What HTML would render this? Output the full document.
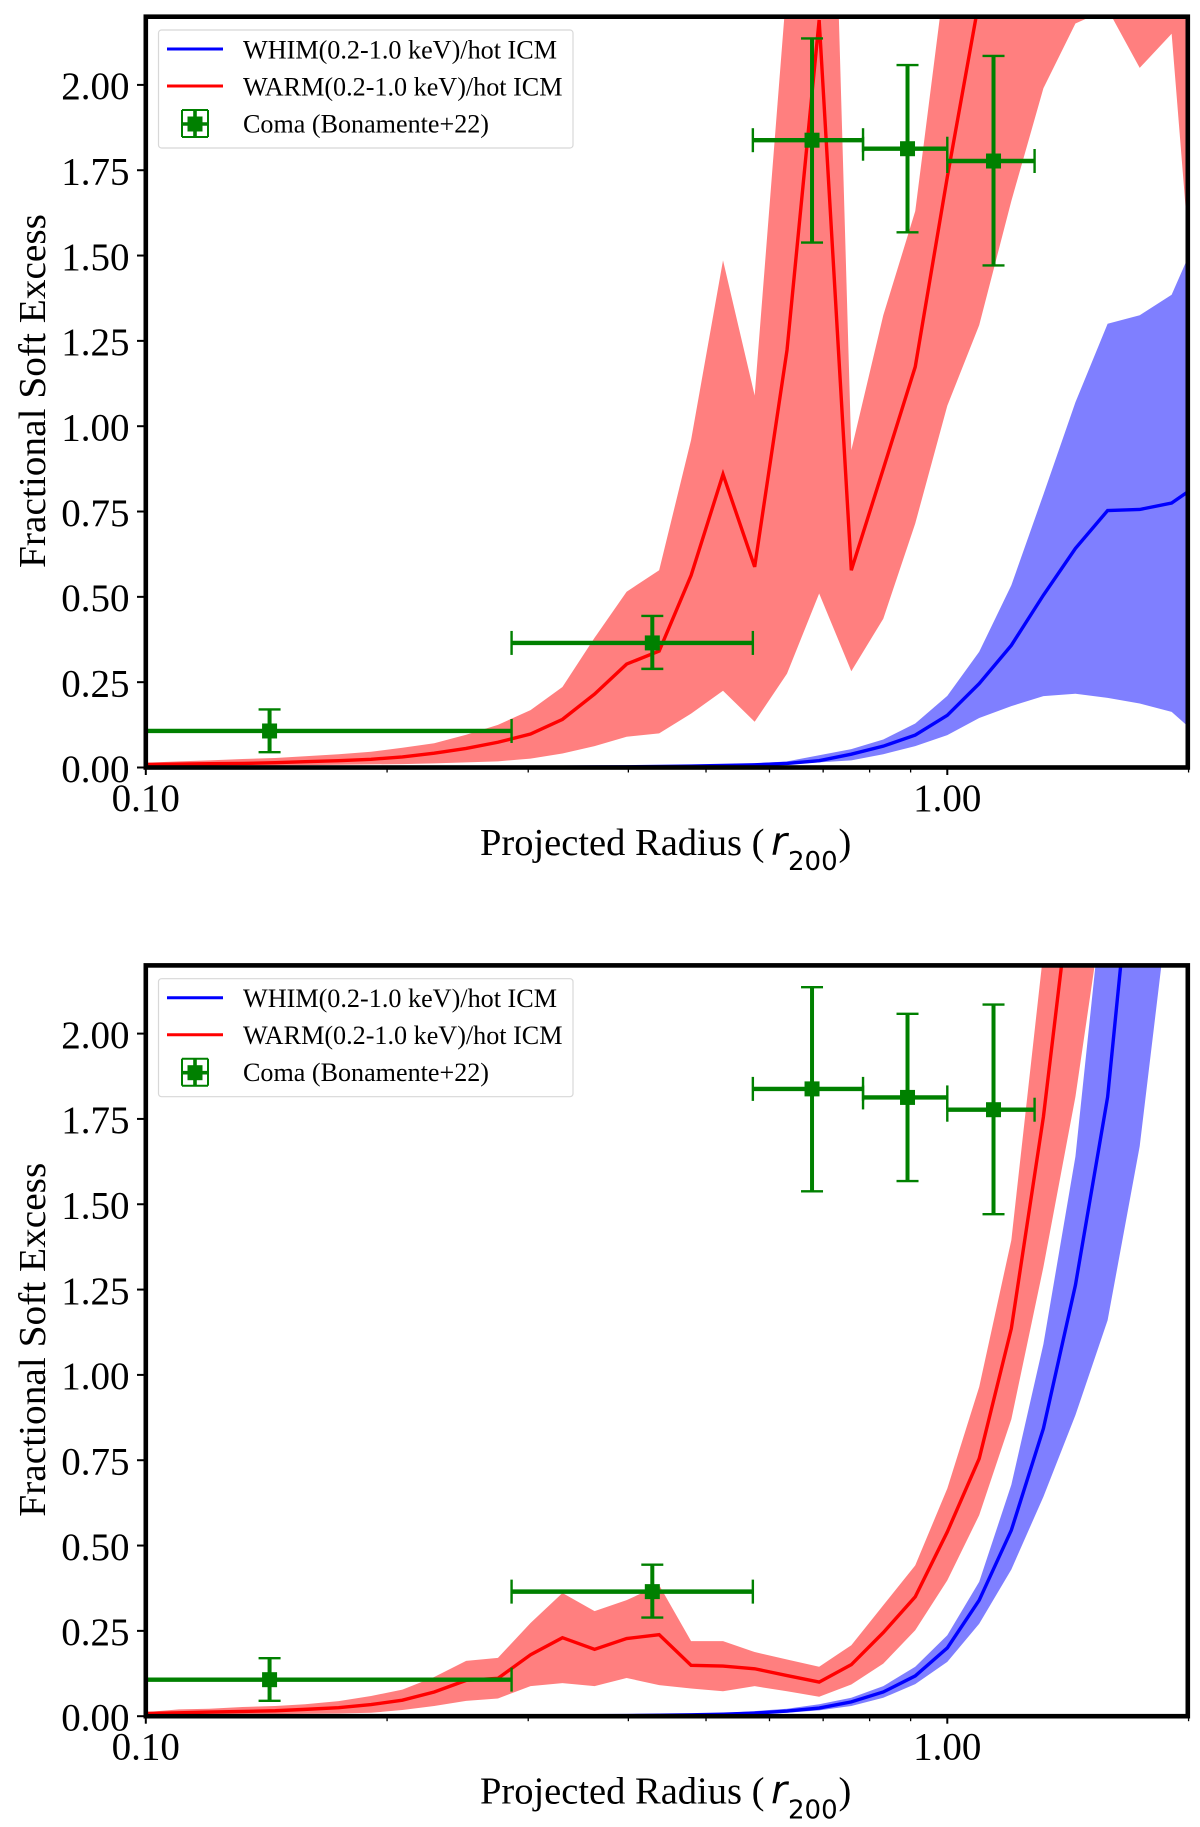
<!DOCTYPE html>
<html lang="en">
<head>
<meta charset="utf-8">
<title>Fractional Soft Excess vs Projected Radius</title>
<style>
html,body{margin:0;padding:0;background:#fff;}
svg{display:block;}
text{font-family:"Liberation Serif",serif;fill:#000;}
.tick-label{font-size:39px;}
.axis-title{font-size:38.5px;}
.legend-text{font-size:26px;}
.math{font-family:"DejaVu Sans",sans-serif;}
</style>
</head>
<body>
<svg id="figure" xmlns="http://www.w3.org/2000/svg" width="1200" height="1827" viewBox="0 0 1200 1827">
  <rect x="0" y="0" width="1200" height="1827" fill="#fff"/>
  <defs>
    <clipPath id="plot-clip"><rect x="145.8" y="16.7" width="1042" height="750.8"/></clipPath>
  </defs>

  <g id="panel-top">
    <g class="marks" clip-path="url(#plot-clip)"></g>
    <g class="ticks"></g>
    <rect x="145.8" y="16.7" width="1042" height="750.8" fill="none" stroke="#000" stroke-width="4.6"/>
    <text class="axis-title" x="480" y="855">Projected Radius (<tspan class="math" font-style="italic" x="771" y="855" font-size="39">r</tspan><tspan class="math" x="788" y="870" font-size="26">200</tspan><tspan x="838.5" y="855">)</tspan></text>
    <text class="axis-title" transform="translate(44.8,568) rotate(-90)" x="0" y="0" textLength="354" lengthAdjust="spacingAndGlyphs" font-size="39">Fractional Soft Excess</text>
    <g>
      <rect x="158.5" y="30" width="414.5" height="118" rx="3" fill="#fff" fill-opacity="0.8" stroke="#d8d8d8" stroke-width="1.2"/>
      <line x1="167" y1="49" x2="223" y2="49" stroke="#0000ff" stroke-width="3"/>
      <line x1="167" y1="86" x2="223" y2="86" stroke="#ff0000" stroke-width="3"/>
      <text class="legend-text" x="243" y="58.5" textLength="314" lengthAdjust="spacingAndGlyphs">WHIM(0.2-1.0 keV)/hot ICM</text>
      <text class="legend-text" x="243" y="95.5" textLength="319.5" lengthAdjust="spacingAndGlyphs">WARM(0.2-1.0 keV)/hot ICM</text>
      <text class="legend-text" x="243" y="132.5" textLength="246" lengthAdjust="spacingAndGlyphs">Coma (Bonamente+22)</text>
      <g stroke="#008000" stroke-width="2">
        <line x1="195" y1="110" x2="195" y2="137" stroke-width="3.6"/><line x1="182" y1="124" x2="209" y2="124" stroke-width="3.6"/>
        <line x1="182" y1="110" x2="208" y2="110"/><line x1="182" y1="137" x2="208" y2="137"/>
        <line x1="182" y1="110" x2="182" y2="137"/><line x1="208" y1="110" x2="208" y2="137"/>
        <rect x="187.5" y="116.5" width="15" height="15" fill="#008000" stroke="none"/>
      </g>
    </g>
  </g>

  <g id="panel-bottom" transform="translate(0,948.7)">
    <g class="marks" clip-path="url(#plot-clip)"></g>
    <g class="ticks"></g>
    <rect x="145.8" y="16.7" width="1042" height="750.8" fill="none" stroke="#000" stroke-width="4.6"/>
    <text class="axis-title" x="480" y="855">Projected Radius (<tspan class="math" font-style="italic" x="771" y="855" font-size="39">r</tspan><tspan class="math" x="788" y="870" font-size="26">200</tspan><tspan x="838.5" y="855">)</tspan></text>
    <text class="axis-title" transform="translate(44.8,568) rotate(-90)" x="0" y="0" textLength="354" lengthAdjust="spacingAndGlyphs" font-size="39">Fractional Soft Excess</text>
    <g>
      <rect x="158.5" y="30" width="414.5" height="118" rx="3" fill="#fff" fill-opacity="0.8" stroke="#d8d8d8" stroke-width="1.2"/>
      <line x1="167" y1="49" x2="223" y2="49" stroke="#0000ff" stroke-width="3"/>
      <line x1="167" y1="86" x2="223" y2="86" stroke="#ff0000" stroke-width="3"/>
      <text class="legend-text" x="243" y="58.5" textLength="314" lengthAdjust="spacingAndGlyphs">WHIM(0.2-1.0 keV)/hot ICM</text>
      <text class="legend-text" x="243" y="95.5" textLength="319.5" lengthAdjust="spacingAndGlyphs">WARM(0.2-1.0 keV)/hot ICM</text>
      <text class="legend-text" x="243" y="132.5" textLength="246" lengthAdjust="spacingAndGlyphs">Coma (Bonamente+22)</text>
      <g stroke="#008000" stroke-width="2">
        <line x1="195" y1="110" x2="195" y2="137" stroke-width="3.6"/><line x1="182" y1="124" x2="209" y2="124" stroke-width="3.6"/>
        <line x1="182" y1="110" x2="208" y2="110"/><line x1="182" y1="137" x2="208" y2="137"/>
        <line x1="182" y1="110" x2="182" y2="137"/><line x1="208" y1="110" x2="208" y2="137"/>
        <rect x="187.5" y="116.5" width="15" height="15" fill="#008000" stroke="none"/>
      </g>
    </g>
  </g>
</svg>

<script>
const radiusBins = [0.100,0.110,0.120,0.132,0.145,0.158,0.174,0.191,0.209,0.229,0.251,0.275,0.302,0.331,0.363,0.398,0.437,0.479,0.525,0.575,0.631,0.692,0.759,0.832,0.912,1.000,1.096,1.202,1.318,1.445,1.585,1.738,1.905,2.089];

const topWarmMedian = [.009,.010,.011,.012,.014,.017,.020,.024,.031,.042,.056,.074,.098,.141,.215,.303,.341,.563,.859,.588,1.223,2.19,.578,.875,1.174,1.73,2.25,2.8,3.5,4.2,5.0,5.5,6.0,6.5];
const topWarmUpper = [.014,.018,.021,.025,.028,.033,.039,.046,.058,.071,.096,.125,.168,.236,.38,.515,.578,.96,1.486,1.09,2.3,4.2,.93,1.325,1.63,2.37,3.0,3.6,4.3,5.0,5.8,6.5,7.0,7.5];
const topWarmLower = [.005,.005,.006,.006,.006,.007,.008,.009,.010,.012,.015,.018,.026,.041,.0625,.09,.10,.158,.225,.134,.275,.51,.282,.436,.715,1.06,1.296,1.66,1.99,2.18,2.222,2.05,2.15,.98];
const topWhimMedian = [.0002,.0002,.0002,.0003,.0003,.0004,.0004,.0005,.0006,.0007,.0008,.0009,.001,.001,.0015,.002,.003,.004,.006,.008,.012,.02,.039,.0625,.095,.153,.246,.358,.505,.642,.753,.756,.775,.84];
const topWhimUpper = [.0002,.0003,.0003,.0004,.0004,.0005,.0005,.0006,.0007,.0008,.0009,.001,.0012,.0015,.002,.003,.004,.005,.008,.012,.018,.036,.054,.082,.129,.21,.339,.534,.80,1.07,1.30,1.325,1.385,1.6];
const topWhimLower = [.0001,.0001,.0001,.0001,.0001,.0001,.0002,.0002,.0002,.0003,.0003,.0004,.0004,.0005,.001,.001,.002,.002,.003,.005,.009,.015,.021,.039,.0625,.095,.145,.18,.209,.216,.204,.1875,.163,.08];

const bottomWarmMedian = [.008,.010,.012,.014,.016,.020,.025,.034,.047,.071,.105,.111,.18,.23,.196,.2275,.239,.149,.147,.139,.119,.10,.151,.245,.35,.54,.755,1.136,1.756,2.54,3.4,4.4,5.4,6.4];
const bottomWarmUpper = [.012,.020,.022,.027,.030,.035,.044,.059,.078,.115,.162,.171,.273,.361,.308,.34,.384,.22,.22,.188,.166,.145,.208,.325,.442,.667,.965,1.395,2.24,3.0,4.0,5.0,6.0,7.0];
const bottomWarmLower = [.003,.004,.004,.005,.006,.007,.008,.010,.018,.03,.045,.052,.088,.097,.088,.112,.091,.081,.073,.088,.073,.057,.093,.154,.252,.398,.589,.87,1.316,1.815,2.46,3.2,4.0,5.0];
const bottomWhimMedian = [.0002,.0002,.0002,.0003,.0003,.0004,.0004,.0005,.0006,.0007,.0008,.0009,.001,.001,.0015,.002,.003,.004,.006,.009,.015,.024,.042,.071,.118,.20,.34,.545,.843,1.263,1.814,2.76,3.6,4.6];
const bottomWhimUpper = [.0002,.0003,.0003,.0004,.0004,.0005,.0005,.0006,.0007,.0008,.0009,.001,.0012,.002,.002,.003,.004,.006,.009,.015,.022,.035,.054,.088,.145,.237,.394,.678,1.09,1.64,2.54,3.4,4.4,5.4];
const bottomWhimLower = [.0001,.0001,.0001,.0001,.0001,.0001,.0002,.0002,.0002,.0003,.0003,.0004,.0004,.0005,.001,.001,.002,.002,.004,.006,.01,.017,.03,.054,.094,.159,.271,.43,.643,.882,1.16,1.67,2.45,3.4];

const comaRadius = [0.1427,0.4285,0.678,0.892,1.142];
const comaRadiusLow = [0.1,0.286,0.572,0.785,1.0];
const comaRadiusHigh = [0.286,0.572,0.785,1.0,1.285];
const comaExcess = [0.107,0.365,1.838,1.813,1.777];
const comaExcessLow = [0.045,0.289,1.538,1.568,1.471];
const comaExcessHigh = [0.17,0.444,2.136,2.058,2.085];

const yTickValues = [0,0.25,0.5,0.75,1,1.25,1.5,1.75,2];
const yTickLabels = ["0.00","0.25","0.50","0.75","1.00","1.25","1.50","1.75","2.00"];
const xMajorTickValues = [0.1,1];
const xMajorTickLabels = ["0.10","1.00"];
const xMinorTickValues = [0.2,0.3,0.4,0.5,0.6,0.7,0.8,0.9,2];

const SVG_NS = "http://www.w3.org/2000/svg";
function xAxis(r){ return 145.8 + 801.5 * Math.log10(r / 0.1); }
function yAxis(v){ return 767.5 - 341.3 * v; }

function make(parent, tag, attrs){
  const el = document.createElementNS(SVG_NS, tag);
  for (const k in attrs) el.setAttribute(k, attrs[k]);
  parent.appendChild(el);
  return el;
}
function linePoints(vals){
  return vals.map((v,i)=>xAxis(radiusBins[i]).toFixed(2)+","+yAxis(v).toFixed(2)).join(" ");
}
function bandPoints(upper, lower){
  const a = upper.map((v,i)=>xAxis(radiusBins[i]).toFixed(2)+","+yAxis(v).toFixed(2));
  const b = lower.map((v,i)=>xAxis(radiusBins[i]).toFixed(2)+","+yAxis(v).toFixed(2)).reverse();
  return a.concat(b).join(" ");
}

function drawTicks(group){
  yTickValues.forEach((v,i)=>{
    const y = yAxis(v);
    const t = make(group,"line",{x1:137,y1:y,x2:145,y2:y,stroke:"#000","stroke-width":2});
    
    
    const l = make(group,"text",{x:129.5,y:y+14.3,"text-anchor":"end",class:"tick-label"});
    l.textContent = yTickLabels[i];
    
    
  });
  xMajorTickValues.forEach((v,i)=>{
    const x = xAxis(v);
    const t = make(group,"line",{x1:x,y1:767.5,x2:x,y2:775,stroke:"#000","stroke-width":2});
    
    
    const l = make(group,"text",{x:x,y:811,"text-anchor":"middle",class:"tick-label"});
    l.textContent = xMajorTickLabels[i];
    
    
  });
  xMinorTickValues.forEach((v)=>{
    const x = xAxis(v);
    const t = make(group,"line",{x1:x,y1:767.5,x2:x,y2:772.5,stroke:"#000","stroke-width":1.3});
    
    
  });
}

function drawComa(group){
  comaRadius.forEach((r,i)=>{
    const g = make(group,"g",{stroke:"#008000"});
    
    
    const cx = xAxis(r), cy = yAxis(comaExcess[i]);
    const xl = xAxis(comaRadiusLow[i]), xh = xAxis(comaRadiusHigh[i]);
    const yl = yAxis(comaExcessLow[i]), yh = yAxis(comaExcessHigh[i]);
    make(g,"line",{x1:xl,y1:cy,x2:xh,y2:cy,"stroke-width":4.4});
    make(g,"line",{x1:cx,y1:yl,x2:cx,y2:yh,"stroke-width":4});
    make(g,"line",{x1:xl,y1:cy-12,x2:xl,y2:cy+12,"stroke-width":2.4});
    make(g,"line",{x1:xh,y1:cy-12,x2:xh,y2:cy+12,"stroke-width":2.4});
    make(g,"line",{x1:cx-11,y1:yl,x2:cx+11,y2:yl,"stroke-width":2.4});
    make(g,"line",{x1:cx-11,y1:yh,x2:cx+11,y2:yh,"stroke-width":2.4});
    make(g,"rect",{x:cx-7.5,y:cy-7.5,width:15,height:15,fill:"#008000",stroke:"none"});
  });
}

function drawPanel(panelId, warmMedian, warmUpper, warmLower, whimMedian, whimUpper, whimLower){
  const panel = document.getElementById(panelId);
  const marks = panel.querySelector(".marks");
  const whimBand = make(marks,"polygon",{points:bandPoints(whimUpper,whimLower),fill:"#0000ff","fill-opacity":0.5,stroke:"none"});
  
  
  const warmBand = make(marks,"polygon",{points:bandPoints(warmUpper,warmLower),fill:"#ff0000","fill-opacity":0.5,stroke:"none"});
  
  
  const whimLine = make(marks,"polyline",{points:linePoints(whimMedian),fill:"none",stroke:"#0000ff","stroke-width":3.4});
  
  
  const warmLine = make(marks,"polyline",{points:linePoints(warmMedian),fill:"none",stroke:"#ff0000","stroke-width":3.4});
  
  
  drawComa(marks);
  drawTicks(panel.querySelector(".ticks"));
}

drawPanel("panel-top", topWarmMedian, topWarmUpper, topWarmLower, topWhimMedian, topWhimUpper, topWhimLower);
drawPanel("panel-bottom", bottomWarmMedian, bottomWarmUpper, bottomWarmLower, bottomWhimMedian, bottomWhimUpper, bottomWhimLower);
</script>
</body>
</html>
